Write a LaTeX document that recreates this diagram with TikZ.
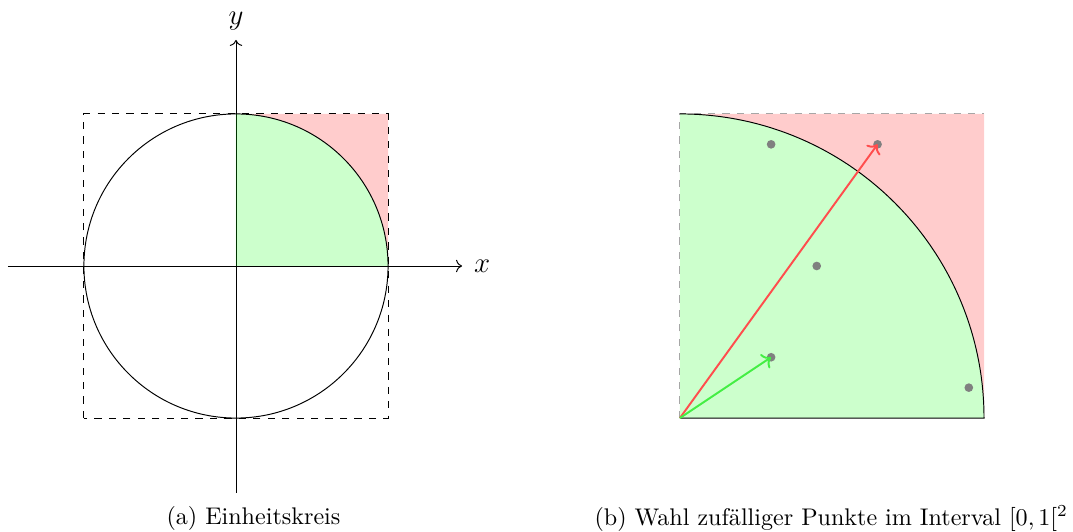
\documentclass[tikz,border=0pt]{standalone}
\usepackage{tikz}
\usepackage{amsmath,amssymb}
\usetikzlibrary{arrows.meta,positioning,calc}
\definecolor{hit}{HTML}{00FF00}
\definecolor{miss}{HTML}{FF0000}
\definecolor{hitline}{HTML}{44EE44}
\definecolor{missline}{HTML}{FF4D4D}
\tikzset{
  axis/.style={->, thin},
  axlab/.style={font=\large},
  frame/.style={dashed, thin},
  okfill/.style={fill=hit, fill opacity=0.2},
  badfill/.style={fill=miss, fill opacity=0.2},
  sample/.style={circle, fill=gray, inner sep=0pt, minimum size=3.6pt},
  hitvec/.style={->, thick, draw=hitline},
  missvec/.style={->, thick, draw=missline},
  capt/.style={font=\normalsize, inner sep=2pt}
}
\newcommand{\radR}{2.22}

\begin{document}
\begin{tikzpicture}
  \useasboundingbox (-3.445,-3.883) rectangle (12.219,3.883);
  % (a) unit circle
  \coordinate (M) at (0,0);
  \draw[axis] (-3.33,0) -- (3.3,0) node[axlab, right=1.5pt] (xlab) {$x$};
  \draw[axis] (0,-3.31) -- (0,3.3) node[axlab, above=0.5pt] (ylab) {$y$};
  \fill[okfill] (M) -- (\radR,0) arc[start angle=0, end angle=90, radius=\radR] -- cycle;
  \fill[badfill] (\radR,0) -- (\radR,\radR) -- (0,\radR)
    arc[start angle=90, end angle=0, radius=\radR] -- cycle;
  \draw (M) circle[radius=\radR];
  \draw[frame] (-\radR,-\radR) rectangle (\radR,\radR);
  \node[capt] (capA) at (0.255,-3.69) {(a) Einheitskreis};

  % (b) random points in [0,1[^2
  \begin{scope}[shift={(6.48,-2.22)}, scale=4.44]
    \coordinate (O) at (0,0);
    \fill[okfill] (O) -- (1,0) arc[start angle=0, end angle=90, radius=1] -- cycle;
    \fill[badfill] (1,0) -- (1,1) -- (0,1) arc[start angle=90, end angle=0, radius=1] -- cycle;
    \draw[frame, gray!70] (O) -- (0,1) -- (1,1);
    \draw (0,1) arc[start angle=90, end angle=0, radius=1] -- (O);
    \node[sample] (p1) at (0.3,0.9) {};
    \node[sample] (p2) at (0.65,0.9) {};
    \node[sample] (p3) at (0.45,0.5) {};
    \node[sample] (p4) at (0.3,0.2) {};
    \node[sample] (p5) at (0.95,0.1) {};
    \draw[missvec] (O) -- (p2.center);
    \draw[hitvec] (O) -- (p4.center);
  \end{scope}
  \node[capt] (capB) at (8.69,-3.69) {(b) Wahl zufälliger Punkte im Interval $[0,1[^2$};
\end{tikzpicture}
\end{document}
